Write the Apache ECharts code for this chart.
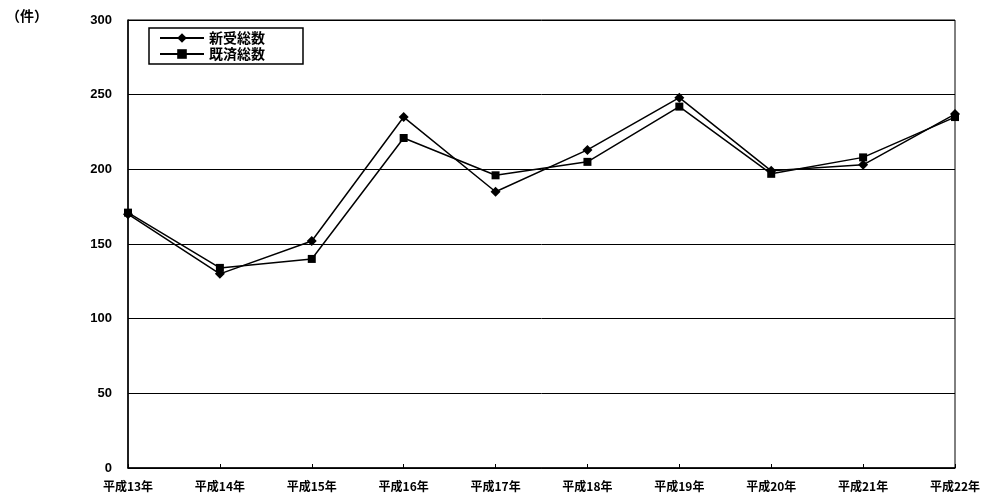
<!DOCTYPE html>
<html><head><meta charset="utf-8">
<script src="https://cdn.jsdelivr.net/npm/echarts@6/dist/echarts.min.js"></script>
<style>html,body{margin:0;padding:0;background:#fff}#c{width:991px;height:499px}</style>
</head><body><div id="c"></div>
<script>
const categories = ['平成13年','平成14年','平成15年','平成16年','平成17年','平成18年','平成19年','平成20年','平成21年','平成22年'];
const shinju = [170, 130, 152, 235, 185, 213, 248, 199, 203, 237];
const kisai = [171, 134, 140, 221, 196, 205, 242, 197, 208, 235];
const yTicks = [0, 50, 100, 150, 200, 250, 300];
const font = '"Noto Sans CJK JP", sans-serif';
const chart = echarts.init(document.getElementById('c'));
chart.setOption({
  animation: false,
  backgroundColor: '#fff',
  grid: {left: 128, right: 36, top: 20, bottom: 31, show: true, borderColor: '#000', borderWidth: 1},
  graphic: [{type: 'text', left: 6, top: 9, style: {text: '（件）', font: 'bold 14px ' + font, fill: '#000'}}],
  legend: {
    left: 149, top: 28, orient: 'vertical', itemGap: 2, itemWidth: 44, itemHeight: 12,
    borderColor: '#000', borderWidth: 1.5, padding: [3, 38, 3, 10], backgroundColor: '#fff',
    textStyle: {fontFamily: font, fontSize: 14, fontWeight: 'bold', color: '#000'},
    data: ['新受総数', '既済総数']
  },
  xAxis: {
    type: 'category', data: categories, boundaryGap: false,
    axisLine: {lineStyle: {color: '#000', width: 1.5}},
    axisTick: {inside: true, length: 4, lineStyle: {color: '#000'}},
    axisLabel: {fontFamily: font, fontSize: 12, fontWeight: 'bold', color: '#000', margin: 12},
    splitLine: {show: false}
  },
  yAxis: {
    type: 'value', min: 0, max: 300, interval: 50,
    axisLine: {show: true, lineStyle: {color: '#000', width: 1.5}},
    axisTick: {show: false},
    axisLabel: {fontFamily: 'Arial, sans-serif', fontSize: 13, fontWeight: 'bold', color: '#000', margin: 16,
      formatter: v => yTicks.includes(v) ? String(v) : ''},
    splitLine: {lineStyle: {color: '#000', width: 1}}
  },
  series: [
    {name: '新受総数', type: 'line', data: shinju, symbol: 'diamond', symbolSize: 10,
      lineStyle: {color: '#000', width: 1.5}, itemStyle: {color: '#000'}},
    {name: '既済総数', type: 'line', data: kisai, symbol: 'rect', symbolSize: 8,
      lineStyle: {color: '#000', width: 1.5}, itemStyle: {color: '#000'}}
  ]
});
</script></body></html>
